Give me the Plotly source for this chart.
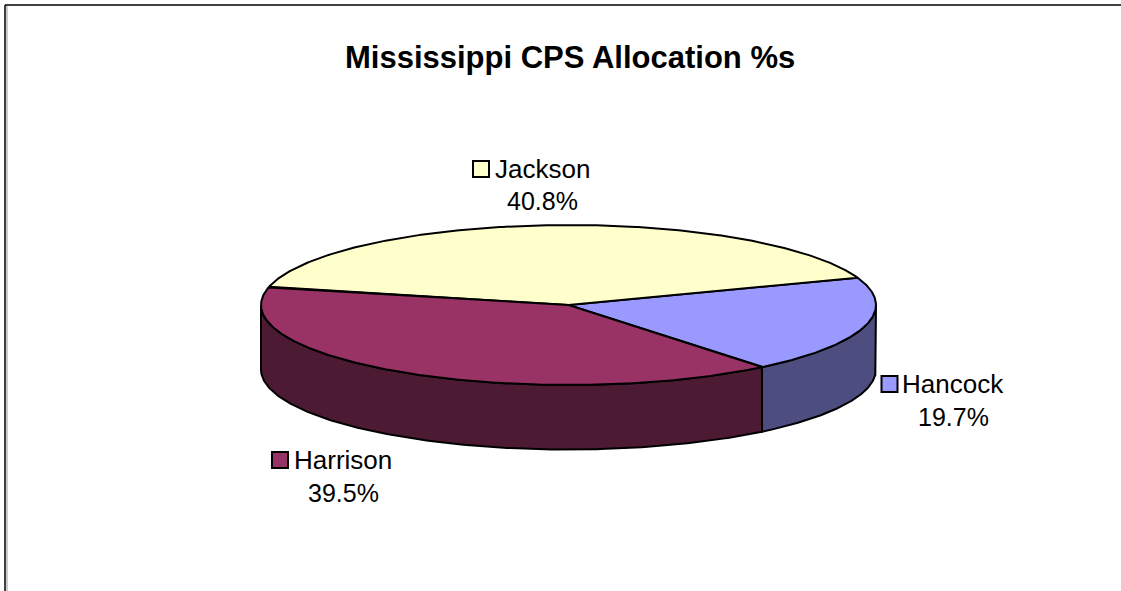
import numpy as np
import plotly.graph_objects as go

# ---- data ----
title = "Mississippi CPS Allocation %s"
categories = ["Hancock", "Jackson", "Harrison"]
values = [19.7, 40.8, 39.5]
pct_labels = ["19.7%", "40.8%", "39.5%"]

# ---- style ----
top_colors = ["#9999FF", "#FFFFCC", "#993366"]
side_colors = ["#4D4D80", "#80805F", "#4D1A33"]
FONT = "Liberation Sans, Arial, sans-serif"
W, H = 1121, 591

# ---- pie geometry: an elliptical projection of a tilted disc ----
CX, CY, RX, RY, DEPTH = 568.5, 305.0, 307.5, 80.0, 64.5
START_DEG = -51.0


def rim(t):
    return CX + RX * np.cos(np.radians(t)), CY - RY * np.sin(np.radians(t))


shares = np.array(values) / np.sum(values) * 360.0
starts = START_DEG + np.concatenate([[0.0], np.cumsum(shares)[:-1]])
ends = starts + shares

fig = go.Figure()


def add_poly(x, y, color):
    fig.add_trace(go.Scatter(
        x=x, y=y, mode="lines", fill="toself", fillcolor=color,
        line=dict(color="black", width=2), hoverinfo="skip", showlegend=False))


# outer visible walls (front half of the disc only: 180..360 deg)
for s, e, c in zip(starts, ends, side_colors):
    ranges = []
    for lo, hi in ((180.0, 360.0), (-180.0, 0.0)):
        a, b = max(s, lo), min(e, hi)
        if b > a:
            ranges.append((a, b))
    for a, b in ranges:
        t = np.linspace(a, b, 200)
        x, y = rim(t)
        add_poly(np.concatenate([x, x[::-1], x[:1]]),
                 np.concatenate([y, y[::-1] + DEPTH, y[:1]]), c)

# top faces
for s, e, c in zip(starts, ends, top_colors):
    t = np.linspace(s, e, 300)
    x, y = rim(t)
    add_poly(np.concatenate([[CX], x, [CX]]), np.concatenate([[CY], y, [CY]]), c)

# label placement (key centre, name centre, name y, percent y)
label_pos = {
    "Hancock": (889.5, 953, 384, 417),
    "Jackson": (481, 542, 169, 201),
    "Harrison": (280, 343, 460, 493),
}
for name, pct, col in zip(categories, pct_labels, top_colors):
    kx, tx, y1, y2 = label_pos[name]
    fig.add_trace(go.Scatter(
        x=[kx], y=[y1], mode="markers",
        marker=dict(symbol="square", size=16, color=col, line=dict(color="black", width=2)),
        hoverinfo="skip", showlegend=False))
    fig.add_annotation(x=tx, y=y1, text=name, showarrow=False,
                       font=dict(family=FONT, size=26, color="black"),
                       xanchor="center", yanchor="middle")
    fig.add_annotation(x=tx, y=y2, text=pct, showarrow=False,
                       font=dict(family=FONT, size=25, color="black"),
                       xanchor="center", yanchor="middle")

fig.add_annotation(x=569.5, y=57, text="<b>%s</b>" % title, showarrow=False,
                   font=dict(family=FONT, size=31, color="black"),
                   xanchor="center", yanchor="middle")

# chart-area frame: only top and left sides fall inside the picture
fig.add_shape(type="line", x0=5, x1=W, y0=5, y1=5, line=dict(color="black", width=1.5))
fig.add_shape(type="line", x0=7, x1=7, y0=6, y1=H, line=dict(color="#999999", width=1))
fig.add_shape(type="line", x0=5, x1=5, y0=5, y1=H, line=dict(color="black", width=1.5))

fig.update_layout(
    width=W, height=H, margin=dict(l=0, r=0, t=0, b=0),
    paper_bgcolor="white", plot_bgcolor="white", showlegend=False,
    xaxis=dict(range=[0, W], visible=False, fixedrange=True),
    yaxis=dict(range=[H, 0], visible=False, fixedrange=True),
)

fig.write_html("out.html", post_script="document.body.style.margin='0';document.body.style.overflow='hidden';",
               config={"displayModeBar": False})
